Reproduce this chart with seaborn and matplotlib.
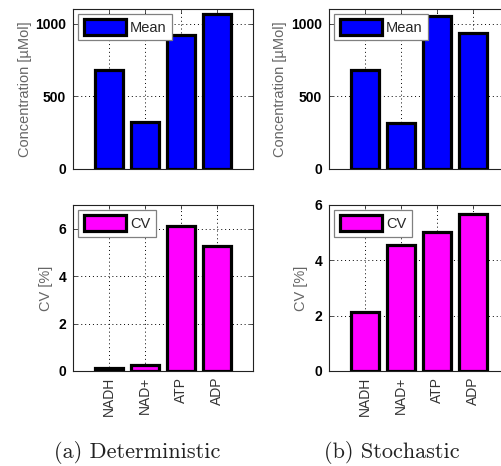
import matplotlib
matplotlib.use("Agg")
import matplotlib.pyplot as plt
from matplotlib.patches import Patch
import seaborn as sns
import pandas as pd

species = ["NADH", "NAD+", "ATP", "ADP"]
mean_det = [680, 325, 922, 1065]
mean_sto = [681, 315, 1055, 938]
cv_det = [0.12, 0.25, 6.1, 5.28]
cv_sto = [2.13, 4.55, 5.02, 5.67]
captions = ["(a) Deterministic", "(b) Stochastic"]

sns.set_theme(style="white")
plt.rcParams["font.family"] = ["Liberation Sans", "DejaVu Sans"]

W, H = 502, 466
fig = plt.figure(figsize=(W / 100, H / 100), dpi=100)

def box(x0, y_top, x1, y_bot):
    return [x0 / W, 1 - y_bot / H, (x1 - x0) / W, (y_bot - y_top) / H]

axes = {
    "tl": fig.add_axes(box(73, 9, 253, 169)),
    "tr": fig.add_axes(box(329, 9, 509, 169)),
    "bl": fig.add_axes(box(73, 205, 253, 371)),
    "br": fig.add_axes(box(329, 205, 509, 371)),
}

specs = [
    ("tl", mean_det, "#0000FF", "Mean", "Concentration [\u00b5Mol]", (0, 1100), [0, 500, 1000], False, -0.225),
    ("tr", mean_sto, "#0000FF", "Mean", "Concentration [\u00b5Mol]", (0, 1100), [0, 500, 1000], False, -0.235),
    ("bl", cv_det, "#FF00FF", "CV", "CV [%]", (0, 7), [0, 2, 4, 6], True, -0.112),
    ("br", cv_sto, "#FF00FF", "CV", "CV [%]", (0, 6), [0, 2, 4, 6], True, -0.117),
]

for key, vals, col, lab, ylab, ylim, yt, showx, ylx in specs:
    ax = axes[key]
    df = pd.DataFrame({"species": species, "value": vals})
    sns.barplot(data=df, x="species", y="value", color=col, saturation=1,
                width=0.8, edgecolor="black", linewidth=2.3, ax=ax, zorder=3)
    ax.set_xlim(-1, 4)
    ax.set_ylim(*ylim)
    ax.set_yticks(yt)
    ax.set_xticks(range(len(species)))
    ax.grid(True, linestyle=(0, (1, 3)), color="black", linewidth=0.7, zorder=0)
    ax.set_axisbelow(True)
    for s in ax.spines.values():
        s.set_visible(True)
        s.set_color("#222222")
        s.set_linewidth(0.8)
    ax.tick_params(direction="in", length=3, width=0.6, top=True, right=True,
                   bottom=True, left=True, color="#333333")
    ax.tick_params(axis="y", pad=5)
    ax.tick_params(axis="x", pad=4)
    for t in ax.get_yticklabels():
        t.set_fontweight("bold")
        t.set_fontsize(10)
        t.set_color("black")
    ax.set_ylabel(ylab, fontsize=10.5, color="#666666")
    ax.yaxis.set_label_coords(ylx, 0.5)
    if showx:
        ax.set_xticklabels(species, rotation=90, fontsize=10, color="#333333")
    else:
        ax.set_xticklabels([])
    ax.set_xlabel("")
    handle = Patch(facecolor=col, edgecolor="black", linewidth=2.3)
    leg = ax.legend([handle], [lab], loc="upper left", bbox_to_anchor=(0.03, 0.97),
                    borderaxespad=0, fancybox=False, framealpha=1,
                    edgecolor="#808080", fontsize=10.5, handlelength=2.9,
                    handleheight=1.35, borderpad=0.35, handletextpad=0.3)
    leg.get_frame().set_linewidth(0.9)

fig.text(137 / W, 1 - 452 / H, captions[0], family="cmr10", fontsize=16,
         ha="center", va="center", color="#222222")
fig.text(392 / W, 1 - 452 / H, captions[1], family="cmr10", fontsize=16,
         ha="center", va="center", color="#222222")

fig.savefig("out.png", dpi=100)
